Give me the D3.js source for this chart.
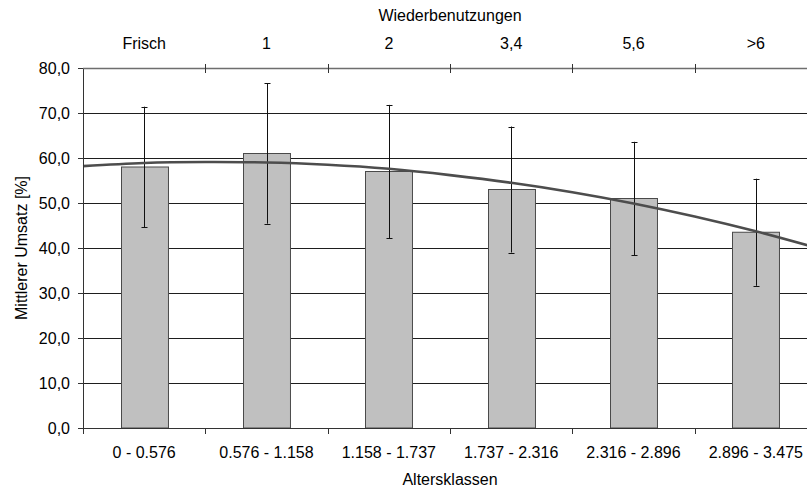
<!DOCTYPE html>
<html>
<head>
<meta charset="utf-8">
<script src="https://cdn.jsdelivr.net/npm/d3@7"></script>
<style>
  html, body { margin: 0; padding: 0; background: #fff; }
  svg { display: block; }
  text { font-family: "Liberation Sans", Arial, sans-serif; fill: #000; }
</style>
</head>
<body>
<svg id="chart" width="807" height="488"></svg>
<script>
// Age classes (bottom axis) and reuse counts (top axis)
const categories = ["0 - 0.576", "0.576 - 1.158", "1.158 - 1.737", "1.737 - 2.316", "2.316 - 2.896", "2.896 - 3.475"];
const reuseLabels = ["Frisch", "1", "2", "3,4", "5,6", ">6"];

// Mean conversion per class [%] and its standard deviation
const meanValues = [58.0, 61.0, 57.0, 53.0, 51.0, 43.5];
const errorValues = [13.4, 15.6, 14.8, 14.0, 12.6, 11.9];

// Polynomial trend line, sampled at half-class positions
const trendPos = [0.5, 1, 1.5, 2, 2.5, 3, 3.5, 4, 4.5, 5, 5.5, 6, 6.5];
const trendValues = [58.2, 58.9, 59.1, 59.0, 58.5, 57.6, 56.2, 54.5, 52.4, 49.9, 47.0, 43.7, 40.0];

const yTicks = [0, 10, 20, 30, 40, 50, 60, 70, 80];

const svg = d3.select("#chart");
const plotLeft = 83, plotRight = 817, plotTop = 68, plotBottom = 428;

const x = d3.scaleBand().domain(categories).range([plotLeft, plotRight])
  .paddingInner(0.616).paddingOuter(0.308);
const xIdx = d3.scaleLinear().domain([0.5, categories.length + 0.5]).range([plotLeft, plotRight]);
const y = d3.scaleLinear().domain([0, 80]).range([plotBottom, plotTop]);
const fmt = v => d3.format(".1f")(v).replace(".", ",");

// Horizontal gridlines
svg.append("g").selectAll("line").data(yTicks.filter(v => v > 0)).join("line")
  .attr("x1", plotLeft).attr("x2", plotRight)
  .attr("y1", d => Math.round(y(d)) + 0.5).attr("y2", d => Math.round(y(d)) + 0.5)
  .attr("stroke", "#1e1e1e").attr("stroke-width", 1);

// Bars
svg.append("g").selectAll("rect").data(meanValues).join("rect")
  .attr("x", (d, i) => Math.round(x(categories[i])) + 0.5)
  .attr("y", d => y(d))
  .attr("width", x.bandwidth())
  .attr("height", d => y(0) - y(d))
  .attr("fill", "#c0c0c0").attr("stroke", "#4a4a4a").attr("stroke-width", 1);

// Error bars
const eb = svg.append("g").attr("stroke", "#111").attr("stroke-width", 1);
meanValues.forEach((m, i) => {
  const cx = Math.round(x(categories[i]) + x.bandwidth() / 2) + 0.5;
  const e = errorValues[i];
  eb.append("line").attr("x1", cx).attr("x2", cx).attr("y1", y(m + e)).attr("y2", y(m - e));
  [m + e, m - e].forEach(v => {
    eb.append("line").attr("x1", cx - 3).attr("x2", cx + 3)
      .attr("y1", Math.round(y(v)) + 0.5).attr("y2", Math.round(y(v)) + 0.5);
  });
});

// Trend line
const line = d3.line().x((d, i) => xIdx(trendPos[i])).y(d => y(d)).curve(d3.curveNatural);
svg.append("path").datum(trendValues).attr("d", line)
  .attr("fill", "none").attr("stroke", "#4d4d4d").attr("stroke-width", 2.6);

// Category boundaries for tick marks
const bounds = d3.range(categories.length + 1).map(i => plotLeft + i * x.step());

// Left value axis
svg.append("line").attr("x1", plotLeft + 0.5).attr("x2", plotLeft + 0.5)
  .attr("y1", plotTop).attr("y2", plotBottom + 0.5).attr("stroke", "#333");
const yAxis = svg.append("g");
yAxis.selectAll("line").data(yTicks).join("line")
  .attr("x1", plotLeft - 5).attr("x2", plotLeft)
  .attr("y1", d => Math.round(y(d)) + 0.5).attr("y2", d => Math.round(y(d)) + 0.5)
  .attr("stroke", "#333");
yAxis.selectAll("text").data(yTicks).join("text")
  .attr("x", 70).attr("y", d => y(d)).attr("dy", "0.36em")
  .attr("text-anchor", "end").attr("font-size", 16).text(fmt);

// Bottom category axis
svg.append("line").attr("x1", plotLeft).attr("x2", plotRight)
  .attr("y1", plotBottom + 0.5).attr("y2", plotBottom + 0.5).attr("stroke", "#333");
svg.append("g").selectAll("line").data(bounds).join("line")
  .attr("x1", d => Math.round(d) + 0.5).attr("x2", d => Math.round(d) + 0.5)
  .attr("y1", plotBottom).attr("y2", plotBottom + 6).attr("stroke", "#333");
svg.append("g").selectAll("text").data(categories).join("text")
  .attr("x", d => x(d) + x.bandwidth() / 2).attr("y", 458)
  .attr("text-anchor", "middle").attr("font-size", 16).text(d => d);

// Top reuse axis
svg.append("line").attr("x1", plotLeft).attr("x2", plotRight)
  .attr("y1", plotTop + 0.5).attr("y2", plotTop + 0.5)
  .attr("stroke", "#6e6e6e").attr("stroke-width", 1.6);
svg.append("g").selectAll("line").data(bounds.slice(1)).join("line")
  .attr("x1", d => Math.round(d) + 0.5).attr("x2", d => Math.round(d) + 0.5)
  .attr("y1", plotTop - 4).attr("y2", plotTop + 5).attr("stroke", "#333");
svg.append("g").selectAll("text").data(reuseLabels).join("text")
  .attr("x", (d, i) => x(categories[i]) + x.bandwidth() / 2).attr("y", 49)
  .attr("text-anchor", "middle").attr("font-size", 16).text(d => d);

// Axis titles
svg.append("text").attr("x", (plotLeft + plotRight) / 2).attr("y", 21)
  .attr("text-anchor", "middle").attr("font-size", 16).text("Wiederbenutzungen");
svg.append("text").attr("x", (plotLeft + plotRight) / 2).attr("y", 485)
  .attr("text-anchor", "middle").attr("font-size", 16).text("Altersklassen");
svg.append("text").attr("transform", `translate(27,${(plotTop + plotBottom) / 2}) rotate(-90)`)
  .attr("text-anchor", "middle").attr("font-size", 16).text("Mittlerer Umsatz [%]");
</script>
</body>
</html>
